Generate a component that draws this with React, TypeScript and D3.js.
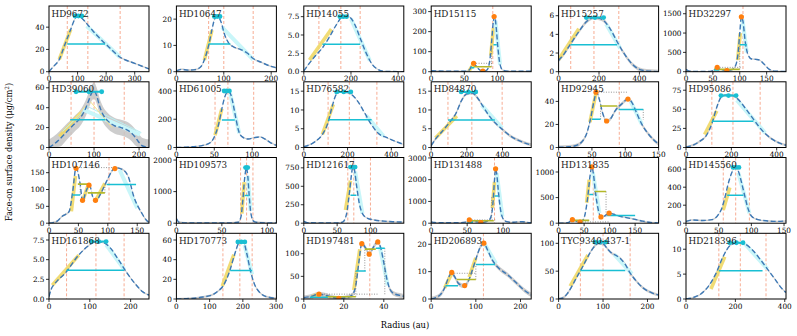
import React from 'react';
import * as d3 from 'd3';

type P = [number, number];

const names = ['HD9672','HD10647','HD14055','HD15115','HD15257','HD32297',
  'HD39060','HD61005','HD76582','HD84870','HD92945','HD95086',
  'HD107146','HD109573','HD121617','HD131488','HD131835','HD145560',
  'HD161868','HD170773','HD197481','HD206893','TYC9340-437-1','HD218396'];

const xMaxes = [350,211,424,151,495,186, 222,132,457,561,150,441, 170,110,150,139,196,153, 245,301,50,224,225,405];
const xTicks = [[0,100,200,300],[0,100,200],[0,200,400],[0,50,100],[0,200,400],[0,50,100,150],
  [0,100,200],[0,50,100],[0,200,400],[0,200,400],[0,50,100,150],[0,200,400],
  [0,50,100,150],[0,50,100],[0,50,100],[0,50,100],[0,50,100,150],[0,50,100,150],
  [0,100,200],[0,100,200,300],[0,20,40],[0,100,200],[0,100,200],[0,200,400]];
const yMaxes = [59,25,8.95,328,7.04,1700, 66,465,17.5,17.5,57,86, 195,2080,890,3020,1283,730, 8.35,66.8,145,24,118,13.2];
const yTicks = [[0,20,40],[0,10,20],[0,2.5,5,7.5],[0,100,200,300],[0,2,4,6],[0,500,1000,1500],
  [0,20,40,60],[0,200,400],[0,5,10,15],[0,5,10,15],[0,20,40],[0,25,50,75],
  [0,50,100,150],[0,1000,2000],[0,250,500,750],[0,1000,2000,3000],[0,500,1000],[0,200,400,600],
  [0,2.5,5,7.5],[0,20,40,60],[0,50,100],[0,10,20],[0,50,100],[0,5,10]];

const profiles: P[][] = [
  [[0,0],[15,4.5],[36,11],[55,24],[76,38],[90,47],[100,50],[115,48],[136,42],[170,32],[210,22],[249,13],[300,7.5],[350,2.5]],
  [[0,0.3],[10,0.9],[25,0.6],[40,0.8],[52,2],[60,5],[68,10],[75,16],[82,20.5],[88,21],[94,19],[102,14],[110,11],[120,9.5],[135,8.5],[150,7],[162,5],[180,3.5],[200,2],[211,1.5]],
  [[0,0.1],[20,1],[50,2.2],[80,3.3],[110,4.8],[140,6.5],[165,7.5],[190,7.5],[215,6.5],[240,4.5],[265,2.5],[290,1.0],[315,0.3],[340,0.05],[424,0]],
  [[0,5],[20,3],[40,3],[52,3],[58,10],[63,40],[67,32],[72,12],[78,3],[84,8],[88,45],[91,140],[94,255],[96,275],[98,225],[101,110],[104,35],[108,8],[115,3],[151,2]],
  [[0,1.2],[30,2],[60,3],[100,4.3],[140,5.4],[175,5.8],[215,5.6],[255,4.6],[295,3.0],[335,1.6],[375,0.6],[415,0.15],[455,0.05],[495,0]],
  [[0,60],[5,20],[15,5],[40,5],[50,30],[58,100],[65,60],[75,30],[85,50],[92,150],[97,500],[100,1000],[103,1420],[106,1300],[110,800],[115,450],[122,330],[130,320],[137,300],[145,200],[155,60],[165,15],[186,5]],
  [[0,0],[10,3],[25,9],[40,16],[55,23],[70,30],[80,38],[88,47],[95,55],[100,57],[106,52],[112,42],[120,33],[130,27],[145,22],[160,20],[172,18],[182,15],[192,10],[200,5],[208,1.5],[222,0]],
  [[0,0],[20,5],[35,15],[45,35],[51,87],[56,170],[60,274],[64,360],[68,395],[71,385],[74,330],[78,220],[82,120],[87,75],[95,60],[103,70],[110,75],[117,60],[124,35],[132,15]],
  [[0,0.2],[50,1.5],[85,3.5],[110,6.5],[130,11],[150,14.3],[170,14.8],[200,14.6],[225,13.8],[250,12],[280,9],[310,6],[340,3.8],[380,2.6],[420,1.6],[457,0.8]],
  [[0,0.5],[25,2.3],[60,4.2],[100,6.5],[140,9.2],[170,12.5],[200,14.3],[230,14.5],[260,13.2],[290,11],[320,8.8],[360,6.5],[400,4.8],[440,3.2],[480,2.1],[520,1.3],[561,0.7]],
  [[0,0.2],[15,0.6],[25,1.5],[35,5],[42,12],[48,25],[53,40],[57,48],[61,42],[66,30],[72,23],[78,25],[85,32],[95,38],[104,42],[110,39],[117,30],[125,20],[133,13],[142,7],[150,3]],
  [[0,0.5],[30,3],[60,8],[90,16],[115,32],[135,52],[155,66],[175,68.5],[205,68],[230,63],[260,52],[290,40],[320,28],[350,18],[380,11],[410,6],[441,3]],
  [[0,0],[13,5],[22,20],[34,34],[40,90],[46,164],[53,116],[57,65],[63,95],[69,113],[74,80],[80,65],[87,85],[97,121],[106,152],[112,165],[127,157],[135,137],[144,80],[158,29],[166,8],[170,2]],
  [[0,150],[3,30],[10,10],[40,5],[60,8],[68,30],[71,200],[73,700],[75,1400],[77,1750],[78.5,1500],[80,900],[82,300],[85,60],[90,20],[100,10],[110,5]],
  [[0,25],[5,8],[20,5],[50,5],[58,15],[62,60],[65,170],[68,380],[71,620],[73.5,760],[76,720],[79,520],[83,280],[88,130],[95,70],[105,45],[120,28],[135,20],[150,15]],
  [[0,60],[5,30],[15,20],[35,20],[48,50],[53,140],[58,90],[64,60],[69,35],[75,60],[80,120],[84,400],[86,1000],[88,2000],[89.5,2500],[91,2300],[93,1600],[96,700],[100,200],[105,70],[112,40],[120,60],[127,70],[133,40],[139,20]],
  [[0,0],[12,3],[20,15],[27,68],[33,50],[40,22],[46,40],[52,180],[57,500],[62,950],[65,1100],[68,980],[72,620],[77,300],[83,122],[90,140],[99,195],[108,175],[120,135],[135,105],[150,75],[165,40],[180,15],[196,5]],
  [[0,20],[10,35],[25,30],[40,40],[50,100],[55,170],[60,300],[65,450],[70,560],[75,620],[80,580],[85,450],[90,300],[95,160],[100,80],[110,40],[125,25],[140,20],[153,25]],
  [[0,0.3],[5,1.2],[15,2.0],[40,3.3],[73,5.6],[95,6.7],[115,7.3],[132,7.2],[150,6.5],[170,5.0],[190,3.4],[210,2.0],[230,0.9],[245,0.5]],
  [[0,0],[40,0.5],[80,2],[110,4.5],[125,8],[140,13],[160,28],[175,45],[188,57],[195,58.5],[203,57],[212,46],[222,30],[235,15],[250,7],[270,2.5],[301,0.7]],
  [[0,3],[3,5],[7.6,10.5],[11,8],[14,4],[17.5,1.5],[21,3],[24,8],[26,30],[27.5,80],[29,122],[31,112],[32.7,99],[34.5,112],[37,126],[38.5,112],[40,80],[41.5,45],[43,22],[45,12],[48,8],[50,6]],
  [[0,0],[10,0.5],[20,1.5],[30,4],[38,7.5],[46,9.5],[53,8],[62,5.5],[74,4.8],[83,6.5],[92,10.5],[102,15.5],[110,19],[118,20.3],[126,18],[136,14.5],[150,11.5],[170,9],[190,6],[210,3],[224,1.5]],
  [[0,0],[10,2],[20,10],[30,23],[40,38],[50,52],[60,67],[70,82],[80,94],[90,100],[100,99],[110,90],[120,82],[130,78],[140,72],[150,62],[160,48],[175,32],[190,20],[210,11],[225,7]],
  [[0,0],[30,0.3],[60,1],[90,2.5],[120,5],[150,8.5],[180,10.8],[210,11.3],[240,11],[270,9.8],[300,8],[330,6],[360,4],[390,2],[405,1.3]],
];

const bands = [0.6,0.3,0.08,3,0.2,15, 8,5,0.15,0.4,1.5,1.5, 3,30,8,30,15,8, 0.1,1,5,0.8,2.5,0.15];

const vlines = [[64,136,249],[68,100,162],[64,157,239],[93],[60,175,298],[106],
  [49,100,167],[51,68,102],[111,208,334],[94,228,398],[91],[114,207,327],
  [102],[70.6,77.2,84.2],[66,75,100],[88],[68],[57,76,97],
  [43,115,184],[140,191,228],[33],[117],[49,100,161],[133,220,324]];

const innerSlopes: P[][][] = [
  [[[36,11],[76,38]]],[[[59,4.4],[75,15.8]]],[[[24,1.6],[117,5.8]]],[[[57,3],[63,35]],[[90,80],[94,220]]],[[[0,1.3],[100,4.6]]],[[[96,300],[101,1000]]],
  [[[23,11],[71,35]]],[[[51,87],[60,274]]],[[[85,3.5],[135,11.5]]],[[[24,2.5],[144,8.4]]],[[[47,22],[56,47]]],[[[82,17],[136,48]]],
  [[[38,35],[45,140]],[[58,70],[66,110]],[[80,70],[95,118]]],[[[72,300],[74.5,1300]]],[[[62.5,178],[70,577]]],[[[85,700],[88,1900]]],[[[55,400],[60,850]]],[[[57,146],[67,396]]],
  [[[8,1.75],[73,5.57]]],[[[138,13],[173,45]]],[[[25,20],[28,110]],[[4,5],[7,10]]],[[[30,4],[45,9]],[[85,8],[100,15]]],[[[26,23],[66,79]]],[[[101,2],[157,8.5]]],
];

const outerSlopes: P[][][] = [
  [[[132,41],[249,13]]],[[[96,17],[162,4.6]]],[[[200,7.2],[280,1.5]]],[[[97,255],[104,35]]],[[[235,5.1],[305,2.5]]],[[[105,1350],[113,500]]],
  [[[76,38],[202,13]]],[[[71,380],[83,100]]],[[[285,8.5],[365,3.0]]],[[[283,11.3],[398,5.2]]],[[[108,40],[125,20]]],[[[224,62],[349,19]]],
  [[[120,158],[150,45]]],[[[78.5,1500],[81.5,400]]],[[[77,700],[88,130]]],[[[91,2300],[99,300]]],[[[67,1000],[80,200]]],[[[80,560],[97,110]]],
  [[[140,6.9],[185,3.7]]],[[[205,55],[228,25]]],[[[38,115],[42,30]]],[[[120,20],[145,13]]],[[[125,80],[165,45]]],[[[240,11],[330,6]]],
];

// [x1, x2, y]
const fwhms: (number[] | null)[] = [
  [64,196,24.8],[68,114,10.5],[79,239,3.75],[94,99,135],[60,289,2.9],[100,113,700],
  [47,125,28],[60,77,195],[111,310,7.4],[94,357,7.3],null,[114,297,34.5],
  null,[75,79.5,880],[70,79,380],[88,93,1250],null,[63,88,310],
  [43,184,3.65],[162,228,29],null,null,[49,150,51],[133,310,5.7],
];
const peaks: (number[] | null)[] = [
  [91,115,50],[80,92,21],[153,181,7.5],null,[137,223,5.8],null,
  [60,117,56],[63,70,400],[150,215,14.8],[168,250,14.8],null,[154,221,68],
  null,[76,78.5,1760],[70,77,760],null,null,[72,81,620],
  [104,140,7.3],[185,206,58],null,null,[82,106,102],[177,231,11.3],
];
const ringDots: P[][] = [
  [],[],[],[[64,42],[78,3],[95,275]],[],[[58,112],[76,26],[103,1420]],
  [],[],[],[],[[56,48],[72,23],[104,42]],[],
  [[46,163],[57,68],[68,113],[79,68],[112,162]],[],[],[[53,150],[69,30],[89.5,2500]],[[27,68],[42,22],[65,1100],[83,122],[99,195]],[],
  [],[],[[7.6,10.7],[17.5,1.5],[29,122],[32.7,99],[37,126]],[[46,9.7],[75,4.9],[118,20.4]],[],[],
];
const oliveSegs: number[][][] = [
  [],[],[],[[64,91,25]],[],[[52,100,60]],
  [],[],[],[],[[62,88,36]],[],
  [[49,69,116],[66,95,90]],[],[],[[55,87,110]],[[25,60,55],[71,93,620]],[],
  [],[],[[11,26,5],[30.5,36,110]],[[57,100,7.1]],[],[],
];
const cyanSegs: number[][][] = [
  [],[],[],[[60,65,20]],[],[[52,62,45]],
  [],[],[],[],[[50,63,24.5],[90,127,33]],[],
  [[40,53,84],[98,148,115]],[],[],[[50,58,40]],[[60,68,560],[95,150,150]],[],
  [],[],[[3,12,4],[26,31,62],[36,40.5,112]],[[32,60,4.8],[100,143,12.6]],[],[],
];
const dottedSegs: P[][][] = [
  [],[],[],[[[64,42],[93,42]],[[91,25],[91,135]]],[],[[[58,112],[103,112]],[[100,60],[100,700]]],
  [],[],[],[],[[[56,48],[103,48]],[[63,24.5],[63,36]],[[127,33],[127,24]]],[],
  [[[46,165],[112,165]],[[53,84],[53,116]],[[95,90],[95,118]]],[],[],[[[53,150],[89,150]],[[84,110],[84,1250]]],[[[42,25],[99,25]],[[71,560],[71,620]],[[93,620],[93,120]]],[],
  [],[],[[[7.6,10.7],[37,10.7]],[[26,5],[26,62]],[[30.5,62],[30.5,110]],[[40.5,112],[40.5,10]]],[[[46,9.4],[100,9.4]],[[100,7.1],[100,12.6]]],[],[],
];
const thinFits: P[][][] = [
  [],[],[],[],[],[],
  [[[40,20],[82,42]],[[82,42],[205,15]],[[92,46],[140,20]],[[30,16],[85,40]]],[],[],[],[],[],
  [],[],[],[],[],[],
  [],[],[],[],[],[],
];

const colLeft = [49, 176.4, 303.8, 431.2, 558.6, 686];
const rowTop = [6, 81.8, 157.5, 233.3];
const PW = 100, PH = 65.7;
const FONT = 'DejaVu Serif, serif';

const C = {
  band: '#c4c4c4', prof: '#3d78b5', yellow: '#f0d866', lcyan: '#c9f6f9', cyan: '#19bfd3',
  vline: '#f6a488', orange: '#ff7f0e', olive: '#b4b82a', dot: '#7a7a7a',
};

function fmt(v: number, ticks: number[]) {
  const dec = ticks.some(t => Math.round(t) !== t);
  return dec ? v.toFixed(1) : String(v);
}

function Panel({ i }: { i: number }) {
  const x0 = colLeft[i % 6];
  const y0 = rowTop[Math.floor(i / 6)];
  const xs = d3.scaleLinear().domain([0, xMaxes[i]]).range([x0, x0 + PW]);
  const ys = d3.scaleLinear().domain([0, yMaxes[i]]).range([y0 + PH, y0]);
  const prof = profiles[i];
  const b = bands[i];
  const line = d3.line<P>().x(d => xs(d[0])).y(d => ys(d[1])).curve(d3.curveMonotoneX);
  const area = d3.area<P>().x(d => xs(d[0])).y0(d => ys(Math.max(0, d[1] - b))).y1(d => ys(d[1] + b)).curve(d3.curveMonotoneX);
  const seg = d3.line<P>().x(d => xs(d[0])).y(d => ys(d[1]));
  const cid = `clip${i}`;
  const fw = fwhms[i];
  const pk = peaks[i];
  return (
    <g>
      <defs>
        <clipPath id={cid}><rect x={x0} y={y0} width={PW} height={PH} /></clipPath>
      </defs>
      <g clipPath={`url(#${cid})`}>
        {vlines[i].map((v, k) => (
          <line key={'v' + k} x1={xs(v)} x2={xs(v)} y1={y0} y2={y0 + PH} stroke={C.vline} strokeWidth={0.9} strokeDasharray="3,2" />
        ))}
        <path d={area(prof) || ''} fill={C.band} opacity={0.85} />
        {innerSlopes[i].map((s, k) => (
          <path key={'in' + k} d={seg(s) || ''} stroke={C.yellow} strokeWidth={3.6} strokeOpacity={0.9} fill="none" />
        ))}
        {outerSlopes[i].map((s, k) => (
          <path key={'out' + k} d={seg(s) || ''} stroke={C.lcyan} strokeWidth={4} fill="none" />
        ))}
        {thinFits[i].map((s, k) => (
          <path key={'tf' + k} d={seg(s) || ''} stroke={k % 2 ? '#b8eef2' : '#f3e38a'} strokeWidth={1} fill="none" />
        ))}
        <path d={line(prof) || ''} stroke={C.prof} strokeWidth={1.4} strokeDasharray="5,2.5" fill="none" />
        {dottedSegs[i].map((s, k) => (
          <path key={'dt' + k} d={seg(s) || ''} stroke={C.dot} strokeWidth={0.8} strokeDasharray="1,1.5" fill="none" />
        ))}
        {oliveSegs[i].map((s, k) => (
          <line key={'ol' + k} x1={xs(s[0])} x2={xs(s[1])} y1={ys(s[2])} y2={ys(s[2])} stroke={C.olive} strokeWidth={1.6} />
        ))}
        {cyanSegs[i].map((s, k) => (
          <line key={'cs' + k} x1={xs(s[0])} x2={xs(s[1])} y1={ys(s[2])} y2={ys(s[2])} stroke={C.cyan} strokeWidth={1.5} />
        ))}
        {fw && <line x1={xs(fw[0])} x2={xs(fw[1])} y1={ys(fw[2])} y2={ys(fw[2])} stroke={C.cyan} strokeWidth={1.5} />}
        {pk && (
          <g>
            <line x1={xs(pk[0])} x2={xs(pk[1])} y1={ys(pk[2])} y2={ys(pk[2])} stroke={C.cyan} strokeWidth={2} />
            {[pk[0], (pk[0] + pk[1]) / 2, pk[1]].map((v, k) => (
              <circle key={k} cx={xs(v)} cy={ys(pk[2])} r={2.4} fill={C.cyan} />
            ))}
          </g>
        )}
        {ringDots[i].map((d, k) => (
          <circle key={'rd' + k} cx={xs(d[0])} cy={ys(d[1])} r={2.6} fill={C.orange} />
        ))}
      </g>
      <rect x={x0} y={y0} width={PW} height={PH} fill="none" stroke="#000" strokeWidth={1} />
      {xTicks[i].map((t, k) => (
        <g key={'xt' + k}>
          <line x1={xs(t)} x2={xs(t)} y1={y0 + PH} y2={y0 + PH + 3} stroke="#000" strokeWidth={0.8} />
          <text x={xs(t)} y={y0 + PH + 9.5} fontSize={7.3} textAnchor="middle" fontFamily={FONT}>{fmt(t, xTicks[i])}</text>
        </g>
      ))}
      {yTicks[i].map((t, k) => (
        <g key={'yt' + k}>
          <line x1={x0 - 3} x2={x0} y1={ys(t)} y2={ys(t)} stroke="#000" strokeWidth={0.8} />
          <text x={x0 - 4.5} y={ys(t) + 2.6} fontSize={7.3} textAnchor="end" fontFamily={FONT}>{fmt(t, yTicks[i])}</text>
        </g>
      ))}
      <text x={x0 + 2.5} y={y0 + 10.5} fontSize={8.8} fontFamily={FONT} fill="#222">{names[i]}</text>
    </g>
  );
}

export default function App() {
  return (
    <svg width={797} height={336} style={{ position: 'absolute', left: 0, top: 0, background: '#fff' }}>
      {names.map((_, i) => <Panel key={i} i={i} />)}
      <text x={405} y={328} fontSize={8.3} textAnchor="middle" fontFamily={FONT}>Radius (au)</text>
      <text transform="translate(12,152) rotate(-90)" fontSize={8.3} textAnchor="middle" fontFamily={FONT}>
        Face-on surface density (μg/cm<tspan dy={-3} fontSize={5.8}>2</tspan><tspan dy={3}>)</tspan>
      </text>
    </svg>
  );
}
